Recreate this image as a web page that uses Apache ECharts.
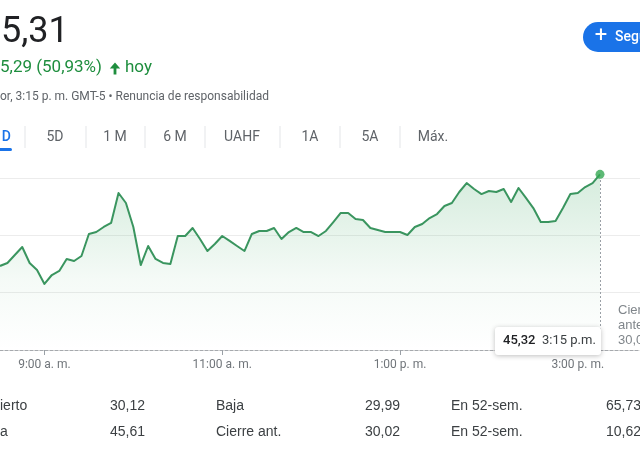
<!DOCTYPE html>
<html>
<head>
<meta charset="utf-8">
<script src="https://cdn.jsdelivr.net/npm/echarts@6/dist/echarts.min.js"></script>
<style>
html,body{margin:0;padding:0;background:#ffffff;}
#c{width:640px;height:450px;}
</style>
</head>
<body>
<div id="c"></div>
<script>
// ---- data ----
const times = [
  "8:30","8:35","8:40","8:45","8:50","8:55",
  "9:00","9:05","9:10","9:15","9:20","9:25","9:30","9:35","9:40","9:45","9:50","9:55",
  "10:00","10:05","10:10","10:15","10:20","10:25","10:30","10:35","10:40","10:45","10:50","10:55",
  "11:00","11:05","11:10","11:15","11:20","11:25","11:30","11:35","11:40","11:45","11:50","11:55",
  "12:00","12:05","12:10","12:15","12:20","12:25","12:30","12:35","12:40","12:45","12:50","12:55",
  "13:00","13:05","13:10","13:15","13:20","13:25","13:30","13:35","13:40","13:45","13:50","13:55",
  "14:00","14:05","14:10","14:15","14:20","14:25","14:30","14:35","14:40","14:45","14:50","14:55",
  "15:00","15:05","15:10","15:15"
];
const prices = [
  37.33,37.59,38.28,38.98,37.59,36.98,
  35.76,36.54,36.89,37.94,37.76,38.20,40.12,40.29,40.73,41.08,43.69,42.82,
  40.73,37.41,39.07,37.94,37.59,37.50,39.94,39.94,40.64,39.68,38.63,39.24,
  39.94,39.51,39.07,38.63,40.12,40.38,40.38,40.64,39.68,40.29,40.64,40.29,
  40.29,39.94,40.38,41.16,41.95,41.95,41.42,41.34,40.64,40.46,40.29,40.29,
  40.29,40.03,40.73,40.99,41.51,41.86,42.56,42.82,43.78,44.56,44.04,43.60,
  43.87,43.78,44.04,42.91,44.13,43.26,42.38,41.16,41.16,41.25,42.38,43.60,
  43.69,44.21,44.56,45.32
];
const yTicks = [30, 35, 40, 45];
const xTickTimes = ["9:00", "11:00", "13:00", "15:00"];
const xTickLabels = ["9:00 a. m.", "11:00 a. m.", "1:00 p. m.", "3:00 p. m."];
const lastTimeLabel = "3:15 p.m.";
const tabs = ["1D", "5D", "1 M", "6 M", "UAHF", "1A", "5A", "Máx."];
const statLabelsRow1 = ["ierto", "Baja", "En 52-sem."];
const statValuesRow1 = ["30,12", "29,99", "65,73"];
const statLabelsRow2 = ["a", "Cierre ant.", "En 52-sem."];
const statValuesRow2 = ["45,61", "30,02", "10,62"];
const headerPrice = "5,31";
const headerChange = "5,29 (50,93%)";
const headerNote = "or, 3:15 p. m. GMT-5 • Renuncia de responsabilidad";
const prevCloseText = "Cierre\nanterior\n30,02";

// ---- build ----
const toMin = s => { const p = s.split(":"); return (+p[0]) * 60 + (+p[1]); };
const seriesData = times.map((t, i) => [toMin(t), prices[i]]);
const tickVals = xTickTimes.map(toMin);
const lastX = toMin(times[times.length - 1]);
const lastY = prices[prices.length - 1];
const fmt = v => v.toFixed(2).replace(".", ",");

const GREEN_LINE = "#3a955f";
const GREEN_TXT = "#1e8e3e";
const FONT = "Roboto, 'Liberation Sans', Arial, sans-serif";
const FONT2 = "'Liberation Sans', Arial, sans-serif";

const tabCenters = [4, 55, 115, 175, 242, 310, 370, 433];
const sepXs = [25, 86, 145, 205, 280, 340, 400];

const graphics = [];
function txt(text, x, y, font, fill, align) {
  graphics.push({
    type: "text", z: 100,
    style: { text: text, x: x, y: y, font: font, fill: fill,
      textAlign: align || "left", align: align || "left",
      textVerticalAlign: "middle", verticalAlign: "middle" }
  });
}
// header
txt(headerPrice, 1, 33, "400 36px " + FONT, "#202124");
txt(headerChange, 0, 68, "400 17px " + FONT, GREEN_TXT);
graphics.push({ type: "polygon", z: 100, shape: { points: [[115, 62.5], [109.8, 68.5], [113.6, 68.5], [113.6, 74.5], [116.4, 74.5], [116.4, 68.5], [120.2, 68.5]] }, style: { fill: GREEN_TXT } });
txt("hoy", 125, 68, "400 17px " + FONT, GREEN_TXT);
txt(headerNote, 0, 97, "400 12px " + FONT, "#5f6368");
// tabs
tabs.forEach((t, i) => {
  if (i === 0) {
    txt(t, 11, 137, "500 14px " + FONT, "#1a73e8", "right");
  } else {
    txt(t, tabCenters[i], 137, "400 14px " + FONT, "#5f6368", "center");
  }
});
sepXs.forEach(x => graphics.push({ type: "line", z: 100, shape: { x1: x, y1: 126, x2: x, y2: 148 }, style: { stroke: "#e3e5e8", lineWidth: 1 } }));
graphics.push({ type: "rect", z: 100, shape: { x: -4, y: 148, width: 16, height: 3, r: 1.5 }, style: { fill: "#1a73e8" } });
// follow button
graphics.push({ type: "rect", z: 100, shape: { x: 583, y: 22, width: 90, height: 30, r: 15 }, style: { fill: "#1a73e8" } });
txt("+", 601, 36, "400 22px " + FONT, "#ffffff", "center");
txt("Seguir", 615, 37, "500 14px " + FONT, "#ffffff");
// previous close label
graphics.push({
  type: "text", z: 100,
  style: { text: prevCloseText, x: 618, y: 303, font: "400 13px " + FONT2, fill: "#80868b", lineHeight: 15, textAlign: "left", align: "left" }
});
// tooltip box
graphics.push({ type: "rect", z: 120, shape: { x: 495, y: 327, width: 106, height: 28, r: 3 },
  style: { fill: "#ffffff", shadowBlur: 5, shadowColor: "rgba(0,0,0,0.25)", shadowOffsetY: 1 } });
graphics.push({ type: "text", z: 121, style: { text: fmt(lastY), x: 503, y: 341, font: "500 13px " + FONT, fill: "#202124", textVerticalAlign: "middle", verticalAlign: "middle" } });
graphics.push({ type: "text", z: 121, style: { text: lastTimeLabel, x: 542, y: 341, font: "400 13px " + FONT, fill: "#3c4043", textVerticalAlign: "middle", verticalAlign: "middle" } });
// stats
const colLabelX = [0, 216, 451];
const colValX = [110, 365, 606];
[[statLabelsRow1, statValuesRow1, 406], [statLabelsRow2, statValuesRow2, 432]].forEach(r => {
  r[0].forEach((l, i) => txt(l, colLabelX[i], r[2], "400 14px " + FONT2, "#3c4043"));
  r[1].forEach((v, i) => txt(v, colValX[i], r[2], "400 14px " + FONT2, "#3c4043"));
});

const chart = echarts.init(document.getElementById("c"), null, { renderer: "canvas" });
chart.setOption({
  animation: false,
  backgroundColor: "#ffffff",
  grid: { left: 0, right: 0, top: 178, bottom: 100, containLabel: false },
  xAxis: {
    type: "value",
    min: toMin(times[0]),
    max: 942,
    splitLine: { show: false },
    axisLine: { show: true, onZero: false, lineStyle: { color: "#a6a9ad", width: 1, type: [3, 2] } },
    axisTick: { show: true, customValues: tickVals, length: 5, lineStyle: { color: "#9aa0a6" } },
    axisLabel: {
      customValues: tickVals, margin: 9, color: "#70757a", fontSize: 12, fontFamily: FONT,
      formatter: v => xTickLabels[tickVals.indexOf(v)] || ""
    }
  },
  yAxis: {
    type: "value",
    min: yTicks[0], max: yTicks[yTicks.length - 1], interval: yTicks[1] - yTicks[0],
    axisLine: { show: false }, axisTick: { show: false }, axisLabel: { show: false },
    splitLine: { show: true, lineStyle: { color: "#ececec", width: 1 } }
  },
  series: [
    {
      type: "line",
      data: seriesData,
      showSymbol: false,
      clip: false,
      z: 5,
      lineStyle: { color: GREEN_LINE, width: 2, join: "round" },
      areaStyle: {
        origin: "start",
        color: new echarts.graphic.LinearGradient(0, 0, 0, 1, [
          { offset: 0, color: "rgba(70,170,105,0.32)" },
          { offset: 0.6, color: "rgba(70,170,105,0.08)" },
          { offset: 1, color: "rgba(70,170,105,0.0)" }
        ])
      },
      markLine: {
        silent: true, symbol: ["none", "none"], label: { show: false },
        lineStyle: { type: [2, 2], color: "#9aa0a6", width: 1 },
        data: [{ xAxis: lastX }]
      }
    },
    {
      type: "scatter",
      data: [[lastX, lastY]],
      clip: false,
      z: 6,
      symbol: "circle",
      symbolSize: 9,
      itemStyle: { color: "#34a853" }
    }
  ],
  graphic: graphics
});
</script>
</body>
</html>
